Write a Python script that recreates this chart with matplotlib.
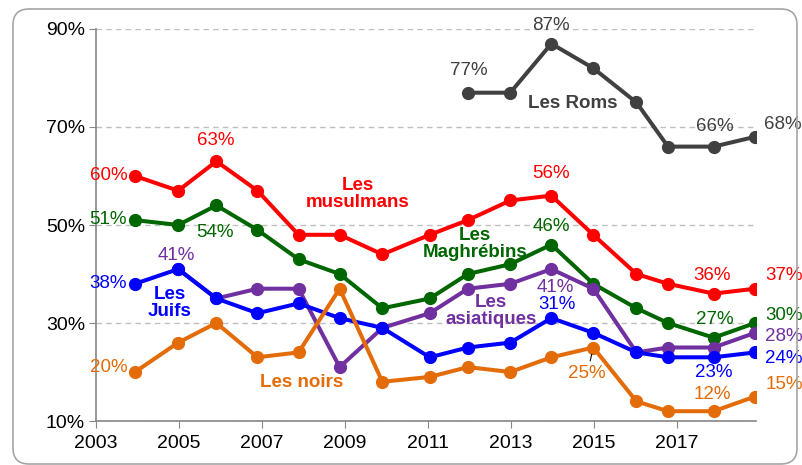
import numpy as np
import matplotlib.pyplot as plt
from matplotlib.patches import FancyBboxPatch

plt.rcParams['font.family'] = ['Liberation Sans', 'DejaVu Sans']

# Dates des enquêtes (années décimales) et valeurs en %
years = [2003.94, 2004.98, 2005.90, 2006.89, 2007.88, 2008.87, 2009.90, 2011.04,
         2011.96, 2012.98, 2013.97, 2014.98, 2016.02, 2016.78, 2017.88, 2018.88]
nan = np.nan
roms       = [nan, nan, nan, nan, nan, nan, nan, nan, 77, 77, 87, 82, 75, 66, 66, 68]
musulmans  = [60, 57, 63, 57, 48, 48, 44, 48, 51, 55, 56, 48, 40, 38, 36, 37]
maghrebins = [51, 50, 54, 49, 43, 40, 33, 35, 40, 42, 46, 38, 33, 30, 27, 30]
juifs      = [38, 41, 35, 32, 34, 31, 29, 23, 25, 26, 31, 28, 24, 23, 23, 24]
asiatiques = [nan, 41, 35, 37, 37, 21, 29, 32, 37, 38, 41, 37, 24, 25, 25, 28]
noirs      = [20, 26, 30, 23, 24, 37, 18, 19, 21, 20, 23, 25, 14, 12, 12, 15]

series = [
    ('Les Roms', roms, '#404040'),
    ('Les\nmusulmans', musulmans, '#FF0000'),
    ('Les\nMaghrébins', maghrebins, '#006600'),
    ('Les\nasiatiques', asiatiques, '#7030A0'),
    ('Les\nJuifs', juifs, '#0000FF'),
    ('Les noirs', noirs, '#E36C09'),
]

# étiquettes de valeurs : (indice série, indice point, dx px, dy px, alignement)
value_labels = [
    (0, 8, 1, 22, 'center'), (0, 10, 0, 18, 'center'), (0, 14, 1, 20, 'center'), (0, 15, 9, 12, 'left'),
    (1, 0, -7, 0, 'right'), (1, 2, -1, 21, 'center'), (1, 10, 0, 22, 'center'), (1, 14, -2, 18, 'center'), (1, 15, 10, 13, 'left'),
    (2, 0, -8, 1, 'right'), (2, 2, -1, -27, 'center'), (2, 10, 0, 18, 'center'), (2, 14, 1, 18, 'center'), (2, 15, 10, 8, 'left'),
    (3, 1, -2, 14, 'center'), (3, 10, 4, -18, 'center'), (3, 15, 10, -4, 'left'),
    (4, 0, -8, 0, 'right'), (4, 10, 6, 14, 'center'), (4, 14, 0, -15, 'center'), (4, 15, 10, -6, 'left'),
    (5, 0, -7, 4, 'right'), (5, 14, -1, 17, 'center'), (5, 15, 10, 12, 'left'),
]

# positions des noms de séries (données)
name_pos = [(2014.49, 74.7), (2009.31, 56.3), (2012.13, 46.1),
            (2012.52, 32.4), (2004.78, 34.1), (2007.96, 17.8)]

fig = plt.figure(figsize=(8.02, 4.65), dpi=100)
ax = fig.add_axes([96 / 802, 44 / 465, 660 / 802, 392 / 465])

# cadre arrondi autour du graphique
frame = FancyBboxPatch((0.13, 0.01), 7.84, 4.55, boxstyle='round,pad=0,rounding_size=0.16',
                       transform=fig.dpi_scale_trans, facecolor='none', edgecolor='#A6A6A6',
                       lw=1.2, clip_on=False)
fig.patches.append(frame)

for name, vals, col in series:
    ax.plot(years, vals, color=col, lw=2.9, marker='o', markersize=8.5, zorder=3)

for si, pi, dx, dy, ha in value_labels:
    name, vals, col = series[si]
    ax.annotate(f'{vals[pi]:.0f}%', (years[pi], vals[pi]), xytext=(dx, dy),
                textcoords='offset pixels', ha=ha, va='center', color=col, fontsize=13.5,
                annotation_clip=False, zorder=4)

# 25% des noirs avec un petit trait
ax.annotate(f'{noirs[11]:.0f}%', (years[11], noirs[11]), xytext=(-6, -26),
            textcoords='offset pixels', ha='center', va='center', color='#E36C09', fontsize=13.5,
            arrowprops=dict(arrowstyle='-', color='black', lw=0.8, shrinkA=1, shrinkB=5), zorder=4)

for (name, vals, col), (tx, ty) in zip(series, name_pos):
    ax.text(tx, ty, name, color=col, fontsize=13.5, fontweight='bold', ha='center', va='center',
            linespacing=1.0, zorder=4)

ax.set_xlim(2003, 2018.9)
ax.set_ylim(10, 90)
ax.set_xticks(range(2003, 2018, 2))
ax.set_yticks(range(10, 91, 20))
ax.set_yticklabels([f'{v}%' for v in range(10, 91, 20)])
ax.tick_params(axis='both', labelsize=14, colors='#000000', length=5, color='#868686', pad=3)
ax.tick_params(axis='x', pad=5)
ax.yaxis.grid(True, linestyle=(0, (4, 3)), color='#BFBFBF', lw=1)
ax.set_axisbelow(True)
for s in ['top', 'right']:
    ax.spines[s].set_visible(False)
for s in ['left', 'bottom']:
    ax.spines[s].set_color('#868686')
    ax.spines[s].set_linewidth(1.2)

fig.savefig('out.png', dpi=100)
